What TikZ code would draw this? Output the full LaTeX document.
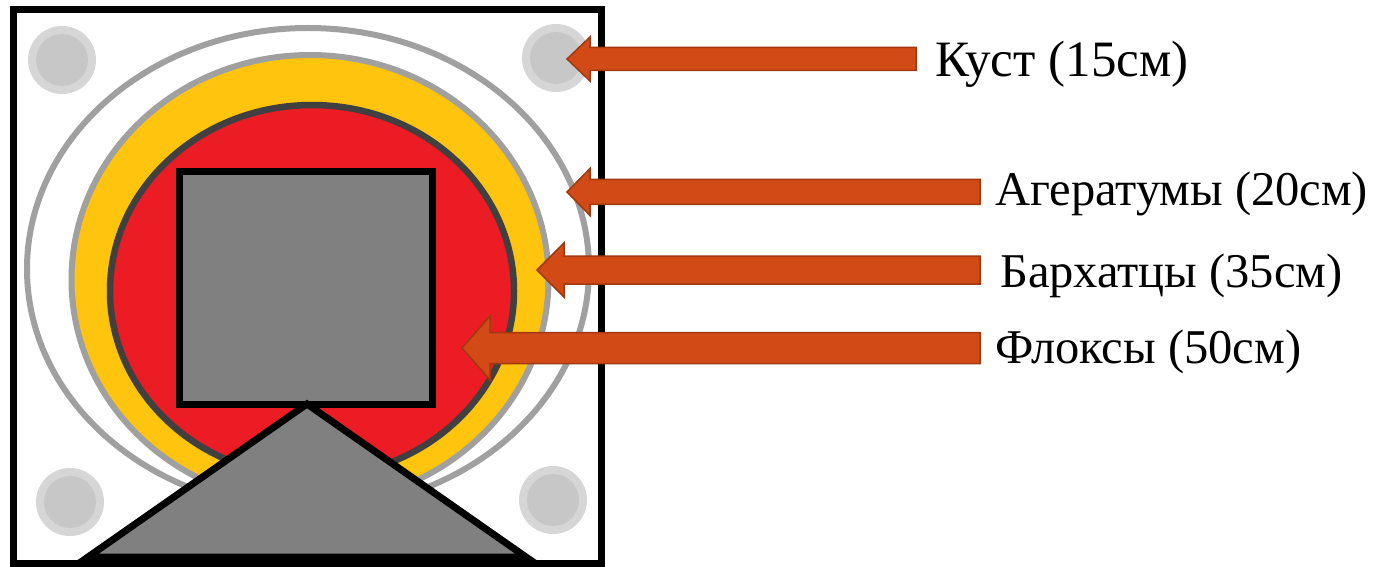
\documentclass[tikz,border=0pt]{standalone}
\usepackage{fontspec}
\setmainfont{Liberation Serif}
\usepackage{tikz}
\usetikzlibrary{calc}

\definecolor{ringgray}{RGB}{160,160,160}
\definecolor{bushout}{RGB}{214,214,214}
\definecolor{bushin}{RGB}{199,199,199}
\definecolor{marigold}{RGB}{255,196,14}
\definecolor{phloxred}{RGB}{236,28,36}
\definecolor{edgedark}{RGB}{64,64,64}
\definecolor{housegray}{RGB}{128,128,128}
\definecolor{arrowfill}{RGB}{210,74,22}
\definecolor{arrowedge}{RGB}{160,56,16}

\begin{document}
\begin{tikzpicture}[x=1pt,y=-1pt,
  ring/.style={draw=ringgray,line width=6pt},
  block/.style={fill=housegray,draw=black,line width=7pt,line join=miter},
  pointer/.style={fill=arrowfill,draw=arrowedge,line width=1.5pt,line join=miter},
  lbl/.style={anchor=base west,inner sep=0pt,font=\fontsize{48.5}{56}\selectfont}]
\useasboundingbox (0,0) rectangle (1385,567);
\fill[white] (0,0) rectangle (1385,567);
\draw[line width=7pt] (13,9.5) rectangle (601.5,563.5);
\fill[bushout] (62,60) circle[radius=34pt];
\fill[bushin] (62,60) circle[radius=26pt];
\fill[bushout] (556,58) circle[radius=34pt];
\fill[bushin] (556,58) circle[radius=26pt];
\fill[bushout] (70,502) circle[radius=34pt];
\fill[bushin] (70,502) circle[radius=26pt];
\fill[bushout] (553,500) circle[radius=34pt];
\fill[bushin] (553,500) circle[radius=26pt];
\draw[ring] (308,269) ellipse[x radius=281pt,y radius=241pt];
\draw[ring,fill=marigold] (310,279.5) ellipse[x radius=238.5pt,y radius=224.5pt];
\draw[draw=edgedark,line width=6.5pt,fill=phloxred] (312,291) ellipse[x radius=202pt,y radius=186pt];
\draw[block] (179.5,171.5) rectangle (432.5,404);
\draw[block] (307,404) -- (88,557) -- (526,557) -- cycle;
\coordinate (kustpt) at (567,59);
\coordinate (ageratpt) at (567,192);
\coordinate (barchpt) at (537,270);
\coordinate (floxpt) at (462,348);
\node[lbl,font=\fontsize{51}{60}\selectfont] (kust) at (935,77) {Куст (15см)};
\node[lbl] (agerat) at (995,205) {Агератумы (20см)};
\node[lbl] (barch) at (1000,287) {Бархатцы (35см)};
\node[lbl] (flox) at (995,363) {Флоксы (50см)};
\filldraw[pointer] (kustpt) -- ++(23,-22) -- ++(0,10.5) -- ($(kustpt -| kust.west)+(-19,-11.5)$) -- ++(0,23) -- ($(kustpt)+(23,11.5)$) -- ++(0,10.5) -- cycle;
\filldraw[pointer] (ageratpt) -- ++(23,-23.5) -- ++(0,11) -- ($(ageratpt -| agerat.west)+(-15,-12.5)$) -- ++(0,25) -- ($(ageratpt)+(23,12.5)$) -- ++(0,11) -- cycle;
\filldraw[pointer] (barchpt) -- ++(27,-27) -- ++(0,13) -- ($(barchpt -| barch.west)+(-20,-14)$) -- ++(0,28) -- ($(barchpt)+(27,14)$) -- ++(0,13) -- cycle;
\filldraw[pointer] (floxpt) -- ++(28,-32) -- ++(0,16.5) -- ($(floxpt -| flox.west)+(-15,-15.5)$) -- ++(0,31) -- ($(floxpt)+(28,15.5)$) -- ++(0,16.5) -- cycle;
\end{tikzpicture}
\end{document}
